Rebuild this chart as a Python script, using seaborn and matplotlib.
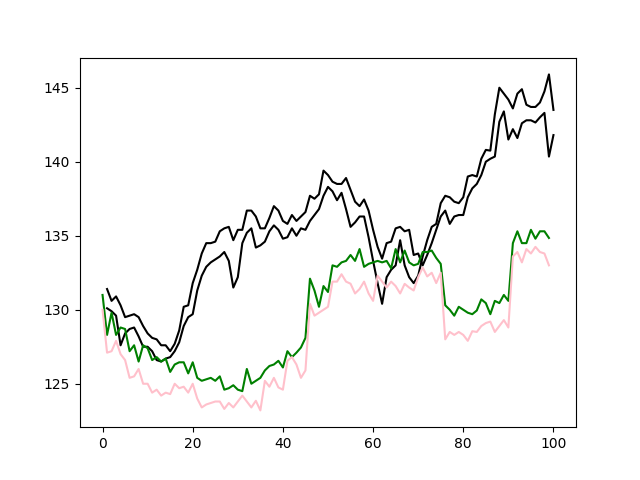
import numpy as np
import matplotlib
matplotlib.use("Agg")
import matplotlib.pyplot as plt
import seaborn as sns

# two black lines (x = 1..100)
black_a = [
    131.4, 130.6, 130.9, 130.3, 129.5, 129.6, 129.7, 129.5, 128.9, 128.4,
    128.1, 128.0, 127.6, 127.6, 127.2, 127.7, 128.6, 130.2, 130.3, 131.8,
    132.7, 133.8, 134.5, 134.5, 134.6, 135.3, 135.5, 135.6, 134.7, 135.4,
    135.4, 136.7, 136.7, 136.3, 135.5, 135.5, 136.2, 137.0, 136.7, 136.0,
    135.8, 136.4, 136.0, 136.3, 136.6, 137.7, 137.5, 137.8, 139.4, 139.1,
    138.65, 138.5, 138.5, 138.9, 138.1, 137.3, 137.0, 137.45, 136.7, 135.4,
    134.25, 133.45, 134.5, 134.6, 135.5, 135.6, 135.3, 135.4, 133.7, 133.8,
    133.0, 133.7, 134.5, 135.4, 136.3, 136.7, 135.8, 136.3, 136.4, 136.4,
    137.6, 138.2, 138.5, 139.1, 140.0, 140.2, 140.35, 142.7, 143.4, 141.5,
    142.2, 141.6, 142.6, 142.8, 142.8, 142.65, 143.0, 143.3, 140.35, 141.8,
]
black_b = [
    130.1, 129.9, 129.6, 127.6, 128.4, 128.7, 128.8, 128.2, 127.5, 127.5,
    127.2, 126.6, 126.5, 126.7, 126.8, 127.2, 127.8, 128.9, 129.5, 129.7,
    131.3, 132.3, 132.9, 133.2, 133.4, 133.6, 133.9, 133.3, 131.5, 132.2,
    134.5, 135.2, 135.5, 134.2, 134.35, 134.6, 135.3, 135.7, 135.4, 134.8,
    134.9, 135.5, 135.0, 135.5, 135.4, 136.0, 136.4, 136.8, 137.7, 138.3,
    138.0, 137.4, 137.9, 136.8, 135.6, 135.9, 136.3, 136.3, 134.9, 133.3,
    131.8, 130.4, 132.2, 132.7, 133.0, 134.7, 133.0, 132.2, 131.8, 132.3,
    133.6, 134.7, 135.6, 135.8, 137.2, 137.7, 137.6, 137.3, 137.2, 137.6,
    139.0, 139.1, 139.0, 140.2, 140.8, 140.75, 143.2, 145.0, 144.6, 144.2,
    143.6, 144.6, 144.9, 143.85, 143.7, 143.7, 144.0, 144.75, 145.9, 143.5,
]

# green and pink lines (x = 0..99)
green = [
    131.0, 128.3, 129.8, 128.3, 128.8, 128.7, 127.2, 127.6, 126.5, 127.6,
    127.4, 126.6, 126.8, 126.5, 126.7, 125.8, 126.3, 126.45, 126.45, 125.7,
    126.45, 125.4, 125.2, 125.3, 125.4, 125.2, 125.5, 124.6, 124.7, 124.9,
    124.6, 124.5, 126.0, 125.0, 125.2, 125.4, 125.9, 126.2, 126.3, 126.55,
    126.1, 127.2, 126.8, 127.1, 127.45, 128.1, 132.1, 131.3, 130.2, 131.6,
    131.2, 133.0, 132.9, 133.2, 133.3, 133.7, 133.3, 134.1, 132.9, 133.1,
    133.2, 133.3, 133.2, 133.3, 132.8, 134.1, 133.2, 134.0, 133.2, 133.0,
    133.1, 133.9, 133.9, 134.0, 133.5, 133.1, 130.3, 130.0, 129.6, 130.2,
    130.0, 129.8, 129.7, 129.95, 130.7, 130.45, 129.7, 130.6, 130.45, 131.0,
    130.6, 134.5, 135.3, 134.5, 134.5, 135.4, 134.8, 135.3, 135.3, 134.85,
]
pink = [
    130.0, 127.1, 127.2, 127.9, 127.0, 126.6, 125.4, 125.5, 126.0, 125.0,
    125.0, 124.4, 124.6, 124.2, 124.4, 124.3, 125.0, 124.7, 124.8, 124.4,
    125.0, 124.0, 123.4, 123.6, 123.7, 123.8, 123.8, 123.3, 123.7, 123.4,
    123.8, 124.2, 123.8, 123.4, 123.85, 123.2, 125.2, 124.8, 125.4, 124.75,
    124.6, 126.55, 126.8, 126.3, 125.4, 125.9, 130.4, 129.6, 129.8, 130.0,
    130.2, 131.9, 131.9, 132.4, 131.9, 131.76, 131.1, 131.4, 131.9, 131.1,
    130.6, 132.3, 131.9, 131.5, 131.9, 131.6, 131.1, 131.75, 131.5, 131.3,
    132.2, 132.85, 132.25, 132.5, 131.8, 132.5, 128.0, 128.5, 128.3, 128.5,
    128.3, 127.9, 128.55, 128.5, 128.9, 129.1, 129.2, 128.5, 128.9, 129.3,
    128.8, 133.6, 133.9, 133.2, 134.1, 133.8, 134.25, 133.9, 133.8, 133.0,
]

x_black = np.arange(1, 101)
x_color = np.arange(0, 100)

fig, ax = plt.subplots(figsize=(6.4, 4.8), dpi=100)

sns.lineplot(x=x_black, y=black_a, color="black", ax=ax)
sns.lineplot(x=x_black, y=black_b, color="black", ax=ax)
sns.lineplot(x=x_color, y=green, color="green", ax=ax)
sns.lineplot(x=x_color, y=pink, color="pink", ax=ax)

ax.set_xlabel("")
ax.set_ylabel("")

plt.savefig("out.png", dpi=100)
